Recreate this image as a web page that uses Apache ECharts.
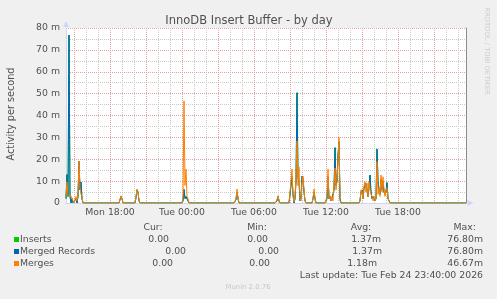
<!DOCTYPE html>
<html><head><meta charset="utf-8">
<script src="https://cdn.jsdelivr.net/npm/echarts@6/dist/echarts.min.js"></script>
<style>html,body{margin:0;padding:0;background:#f0f0f0;}#c{width:497px;height:299px;}</style>
</head><body><div id="c"></div>
<script>
// ---- data (5-minute samples, Mon 14:20 .. Tue 23:40) ----
const startDay = 'Mon';
const startMinute = 14 * 60 + 20;
const stepMinutes = 5;
const tickLabels = ['Mon 18:00', 'Tue 00:00', 'Tue 06:00', 'Tue 12:00', 'Tue 18:00'];
const yTicks = [0, 10, 20, 30, 40, 50, 60, 70, 80];

const inserts = [
2,13,3,76.8,3,0,2,0,0,0,2,0,3,19,6,9.6,2,0,0,0,
0,0,0,0,0,0,0,0,0,0,0,0,0,0,0,0,0,0,0,0,
0,0,0,0,0,0,0,0,0,0,0,0,0,0,0,3,2,0,0,0,
0,0,0,0,0,0,0,0,0,0,2.5,6,5,1,0,0,0,0,0,0,
0,0,0,0,0,0,0,0,0,0,0,0,0,0,0,0,0,0,0,0,
0,0,0,0,0,0,0,0,0,0,0,0,0,0,0,0,0,1,6.2,2,
3,2.9,1,0,0,0,0,0,0,0,0,0,0,0,0,0,0,0,0,0,
0,0,0,0,0,0,0,0,0,0,0,0,0,0,0,0,0,0,0,0,
0,0,0,0,0,0,0,0,0,0,1.5,5,2,0,0,0,0,0,0,0,
0,0,0,0,0,0,0,0,0,0,0,0,0,0,0,0,0,0,0,0,
0,0,0,0,0,0,0,0,0,0,0,1,3,1,0,0,0,0,0,0,
0,0,0,0,0,0,12,4,0,2,10,50.4,12,10,1,2,12.3,11,5,1,
0,0,0,0,0,0,0,2,5,2,0,0,0,0,0,0,0,0,0,0,
0,2,12,2,3,1,2,2,6,25.3,8,10,22,28,2,0,0,0,0,0,
0,0,0,0,0,0,0,0,0,0,0,0,0,0,1,5,6,2,7,8,
9,6,3,7,12.8,5,2,3,2,1,2,24.7,10,6,4,11,6,10,5,4,
5,9.3,2,1,0,0,0,0,0,0,0,0,0,0,0,0,0,0,0,0,
0,0,0,0,0,0,0,0,0,0,0,0,0,0,0,0,0,0,0,0,
0,0,0,0,0,0,0,0,0,0,0,0,0,0,0,0,0,0,0,0,
0,0,0,0,0,0,0,0,0,0,0,0,0,0,0,0,0,0,0,0,
0];

const mergedRecords = [
2,13,3,76.8,3,0,2,0,0,0,2,0,3,19,6,9.6,2,0,0,0,
0,0,0,0,0,0,0,0,0,0,0,0,0,0,0,0,0,0,0,0,
0,0,0,0,0,0,0,0,0,0,0,0,0,0,0,3,2,0,0,0,
0,0,0,0,0,0,0,0,0,0,2.5,6,5,1,0,0,0,0,0,0,
0,0,0,0,0,0,0,0,0,0,0,0,0,0,0,0,0,0,0,0,
0,0,0,0,0,0,0,0,0,0,0,0,0,0,0,0,0,1,6.2,2,
3,2.9,1,0,0,0,0,0,0,0,0,0,0,0,0,0,0,0,0,0,
0,0,0,0,0,0,0,0,0,0,0,0,0,0,0,0,0,0,0,0,
0,0,0,0,0,0,0,0,0,0,1.5,5,2,0,0,0,0,0,0,0,
0,0,0,0,0,0,0,0,0,0,0,0,0,0,0,0,0,0,0,0,
0,0,0,0,0,0,0,0,0,0,0,1,3,1,0,0,0,0,0,0,
0,0,0,0,0,0,12,4,0,2,10,50.4,12,10,1,2,12.3,11,5,1,
0,0,0,0,0,0,0,2,5,2,0,0,0,0,0,0,0,0,0,0,
0,2,12,2,3,1,2,2,6,25.3,8,10,22,28,2,0,0,0,0,0,
0,0,0,0,0,0,0,0,0,0,0,0,0,0,1,5,6,2,7,8,
9,6,3,7,12.8,5,2,3,2,1,2,24.7,10,6,4,11,6,10,5,4,
5,9.3,2,1,0,0,0,0,0,0,0,0,0,0,0,0,0,0,0,0,
0,0,0,0,0,0,0,0,0,0,0,0,0,0,0,0,0,0,0,0,
0,0,0,0,0,0,0,0,0,0,0,0,0,0,0,0,0,0,0,0,
0,0,0,0,0,0,0,0,0,0,0,0,0,0,0,0,0,0,0,0,
0];

const merges = [
3,9.7,3,3.3,3.3,3.3,3.3,1,0,0,3,1,4,19.2,7,4,3,0,0,0,
0,0,0,0,0,0,0,0,0,0,0,0,0,0,0,0,0,0,0,0,
0,0,0,0,0,0,0,0,0,0,0,0,0,0,0,3.3,2,0,0,0,
0,0,0,0,0,0,0,0,0,0,3,6.4,5,1,0,0,0,0,0,0,
0,0,0,0,0,0,0,0,0,0,0,0,0,0,0,0,0,0,0,0,
0,0,0,0,0,0,0,0,0,0,0,0,0,0,0,0,0,3,46.67,8,
15.5,3,2,0,0,0,0,0,0,0,0,0,0,0,0,0,0,0,0,0,
0,0,0,0,0,0,0,0,0,0,0,0,0,0,0,0,0,0,0,0,
0,0,0,0,0,0,0,0,0,0,2,6.4,2,0,0,0,0,0,0,0,
0,0,0,0,0,0,0,0,0,0,0,0,0,0,0,0,0,0,0,0,
0,0,0,0,0,0,0,0,0,0,0,1.5,3.3,1,0,0,0,0,0,0,
0,0,0,0,0,0,15.5,3,0.5,3,12,28.3,8,16.4,2,1,9,12.3,6,1,
0,0,0,0,0,0,0,2,6.4,2,0,0,0,0,0,0,0,0,0,0,
0,3,15.5,2,3,1,3,1,8,16,6,10,20,30,1,0,0,0,0,0,
0,0,0,0,0,0,0,0,0,0,0,0,0,0,1,6,5,2,8,9.7,
5,9,3,9.7,6,4,3,1,3,1,2,18.9,4,7,3,12.8,5,12,6,3,
6,7,2,1,0,0,0,0,0,0,0,0,0,0,0,0,0,0,0,0,
0,0,0,0,0,0,0,0,0,0,0,0,0,0,0,0,0,0,0,0,
0,0,0,0,0,0,0,0,0,0,0,0,0,0,0,0,0,0,0,0,
0,0,0,0,0,0,0,0,0,0,0,0,0,0,0,0,0,0,0,0,
0];

const seriesNames = ['Inserts', 'Merged Records', 'Merges'];
const seriesColors = ['#00cc00', '#0066b3', '#ff8000'];
const legendCur = ['0.00', '0.00', '0.00'];
const legendMin = ['0.00', '0.00', '0.00'];
const legendAvg = ['1.37m', '1.37m', '1.18m'];
const legendMax = ['76.80m', '76.80m', '46.67m'];

// ---- time categories ----
const categories = [];
for (let k = 0; k < inserts.length; k++) {
  const t = startMinute + k * stepMinutes;
  const day = t >= 1440 ? 'Tue' : startDay;
  const m = t % 1440;
  const hh = String(Math.floor(m / 60)).padStart(2, '0');
  const mm = String(m % 60).padStart(2, '0');
  categories.push(day + ' ' + hh + ':' + mm);
}
const hourOf = v => parseInt(v.slice(4, 6), 10);
const onHour = v => v.endsWith(':00');

const FONT = 'DejaVu Sans';
const TXT = '#505050';
const FS = 9.33;

const chart = echarts.init(document.getElementById('c'), null, {renderer: 'canvas'});

const graphics = [];
function txt(x, y, s, opts) {
  graphics.push(Object.assign({
    type: 'text', x: x, y: y, silent: true,
    style: Object.assign({text: s, fill: TXT, font: FS + 'px "' + FONT + '"', textAlign: 'left', textVerticalAlign: 'middle'}, opts && opts.style || {})
  }, opts && opts.el || {}));
}
// title
txt(249, 21, 'InnoDB Insert Buffer - by day', {style: {textAlign: 'center', font: '11.5px "' + FONT + '"'}});
// y axis name
txt(11, 114, 'Activity per second', {style: {textAlign: 'center', font: '9.7px "' + FONT + '"'}, el: {rotation: Math.PI / 2}});
// watermark
txt(487, 51, 'RRDTOOL / TOBI OETIKER', {style: {textAlign: 'center', fill: '#cccccc', font: '6.8px "' + FONT + '"'}, el: {rotation: -Math.PI / 2}});
// legend header
txt(153, 228, 'Cur:', {style: {textAlign: 'center'}});
txt(257, 228, 'Min:', {style: {textAlign: 'center'}});
txt(361, 228, 'Avg:', {style: {textAlign: 'center'}});
txt(476, 228, 'Max:', {style: {textAlign: 'right'}});
const rowY = [239.5, 251.5, 263.5];
const curRight = [169, 186, 173];
const minRight = [268, 279, 270];
const avgRight = [381, 382, 377];
for (let r = 0; r < 3; r++) {
  graphics.push({type: 'rect', silent: true, shape: {x: 14, y: rowY[r] - 2.5, width: 5, height: 5}, style: {fill: seriesColors[r]}});
  txt(20, rowY[r], seriesNames[r]);
  txt(curRight[r], rowY[r], legendCur[r], {style: {textAlign: 'right'}});
  txt(minRight[r], rowY[r], legendMin[r], {style: {textAlign: 'right'}});
  txt(avgRight[r], rowY[r], legendAvg[r], {style: {textAlign: 'right'}});
  txt(483, rowY[r], legendMax[r], {style: {textAlign: 'right'}});
}
txt(483, 275.5, 'Last update: Tue Feb 24 23:40:00 2026', {style: {textAlign: 'right'}});
txt(248, 287, 'Munin 2.0.76', {style: {textAlign: 'center', fill: '#c8c8c8', font: '6.9px "' + FONT + '"'}});

const dotted = [1, 1];
const RED = '#e6a0a0';
const GREY = '#c8c8c8';
const option = {
  animation: false,
  backgroundColor: '#f0f0f0',
  grid: {left: 66, top: 28, width: 400, height: 175, backgroundColor: '#ffffff', show: true, borderWidth: 0},
  xAxis: [{
    type: 'category', data: categories, boundaryGap: false, position: 'bottom',
    axisLine: {show: false}, axisTick: {show: false}, axisLabel: {show: false},
    splitLine: {show: true, interval: (i, v) => onHour(v) && hourOf(v) % 3 !== 0, lineStyle: {color: GREY, type: dotted, width: 1}}
  }, {
    type: 'category', data: categories, boundaryGap: false, position: 'bottom',
    axisLine: {show: true, lineStyle: {color: '#cfd6f8', width: 1}, symbol: ['none', 'triangle'], symbolSize: [6, 6], symbolOffset: [0, 4.5]},
    axisTick: {show: false},
    axisLabel: {interval: (i, v) => tickLabels.includes(v), color: TXT, fontFamily: FONT, fontSize: FS, margin: 5},
    splitLine: {show: true, interval: (i, v) => onHour(v) && hourOf(v) % 3 === 0, lineStyle: {color: RED, type: dotted, width: 1}}
  }],
  yAxis: [{
    type: 'value', position: 'left', min: 0, max: 80, interval: 5,
    axisLine: {show: false}, axisTick: {show: false}, axisLabel: {show: false},
    splitLine: {show: true, lineStyle: {color: GREY, type: dotted, width: 1}}
  }, {
    type: 'value', position: 'left', min: yTicks[0], max: yTicks[yTicks.length - 1], interval: yTicks[1] - yTicks[0],
    axisLine: {show: true, lineStyle: {color: '#cfd6f8', width: 1}, symbol: ['none', 'triangle'], symbolSize: [6, 6], symbolOffset: [0, 4]},
    axisTick: {show: false},
    axisLabel: {color: TXT, fontFamily: FONT, fontSize: FS, margin: 6, formatter: v => v === 0 ? '0' : v + ' m'},
    splitLine: {show: true, lineStyle: {color: RED, type: dotted, width: 1}}
  }, {
    type: 'value', position: 'right', min: yTicks[0], max: yTicks[yTicks.length - 1], z: 10,
    axisLine: {show: true, lineStyle: {color: '#8c8c8c', width: 1}},
    axisTick: {show: false}, axisLabel: {show: false}, splitLine: {show: false}
  }],
  series: [inserts, mergedRecords, merges].map((d, k) => ({
    name: seriesNames[k], type: 'line', data: d, xAxisIndex: 1, yAxisIndex: 1,
    showSymbol: false, symbol: 'none', smooth: false,
    lineStyle: {color: seriesColors[k], width: 1}, itemStyle: {color: seriesColors[k]},
    z: 5 + k
  })),
  graphic: graphics
};
chart.setOption(option);
</script>
</body></html>
